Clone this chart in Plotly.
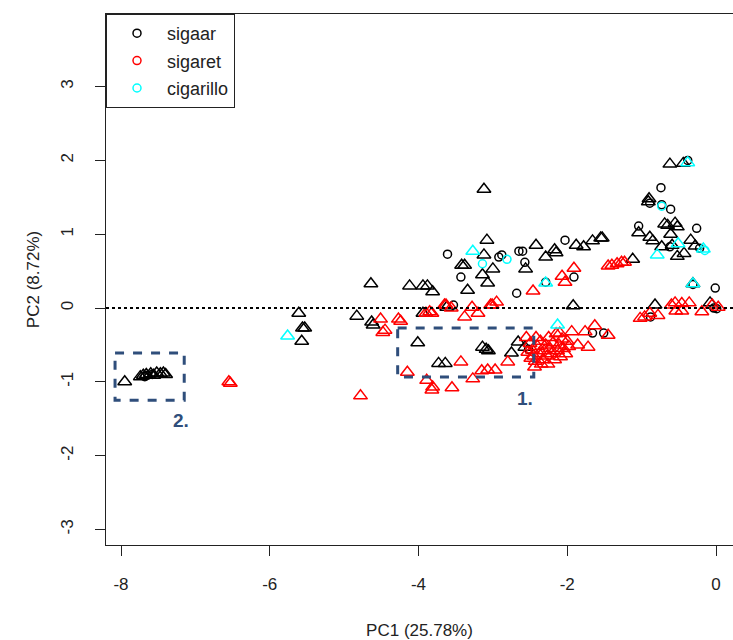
import plotly.graph_objects as go

# PCA scores (PC1, PC2) per product type and sample group
sigaar_tri_x = [-7.95, -7.74, -7.70, -7.66, -7.60, -7.56, -7.52, -7.47, -7.43, -7.40,
                -5.61, -5.53, -5.56, -5.57, -4.83, -4.63, -4.61, -4.64,
                -4.12, -3.94, -3.88, -3.81, -3.94, -4.01, -3.73, -3.64, -3.62,
                -3.14, -3.09, -3.06, -2.75, -2.66, -2.57,
                -3.12, -3.08, -3.12, -3.42, -3.38, -3.14, -3.00, -3.07, -3.34, -2.56,
                -2.42, -2.29, -2.17, -2.15, -1.88, -1.78, -1.66, -1.55, -1.92,
                -0.62, -0.44, -0.90, -0.91, -0.69, -0.65, -0.55, -0.52, -1.04, -0.61,
                -0.89, -0.85, -0.73, -0.59, -0.34, -0.28, -0.52, -0.43, -1.12, -1.53,
                -0.31, -0.82, -0.08]
sigaar_tri_y = [-1.00, -0.93, -0.91, -0.90, -0.89, -0.91, -0.88, -0.89, -0.88, -0.90,
                -0.07, -0.27, -0.27, -0.45, -0.11, -0.19, -0.23, 0.33,
                0.30, 0.30, 0.30, 0.22, -0.07, -0.47, -0.75, -0.75, 0.01,
                -0.53, -0.56, -0.58, -0.61, -0.46, -0.53,
                1.61, 0.92, 0.72, 0.58, 0.58, 0.45, 0.53, 0.34, 0.24, 0.53,
                0.85, 0.69, 0.79, 0.75, 0.85, 0.83, 0.91, 0.95, 0.03,
                1.95, 1.96, 1.48, 1.44, 1.14, 1.12, 1.15, 1.10, 1.02, 1.00,
                0.96, 0.91, 0.83, 0.85, 0.92, 0.84, 0.70, 0.74, 0.66, 0.95,
                0.33, 0.04, 0.07]

sigaar_circ_x = [-7.68, -7.64, -7.58, -3.61, -3.43, -2.92, -2.88, -2.65, -2.60, -2.57,
                 -2.68, -2.03, -2.29, -1.91, -3.53, -2.52, -1.66, -1.51, -0.74, -0.89,
                 -0.73, -0.61, -0.26, -1.04, -0.62, -0.22, -0.31, -0.01, -0.03, 0.01,
                 -0.88, -0.38]
sigaar_circ_y = [-0.93, -0.91, -0.90, 0.73, 0.42, 0.69, 0.72, 0.77, 0.77, 0.62,
                 0.20, 0.92, 0.35, 0.42, 0.04, -0.56, -0.34, -0.34, 1.63, 1.42,
                 1.40, 1.34, 1.08, 1.11, 0.83, 0.81, 0.32, 0.27, 0.00, -0.01,
                 -0.12, 2.00]

sigaret_tri_x = [-6.55, -6.53, -4.78, -4.51, -4.48, -4.27, -4.24, -4.45, -4.15,
                 -3.89, -3.81, -3.82, -3.55, -3.43, -3.27, -3.15, -3.07, -2.97, -2.80,
                 -3.90, -3.82, -3.85, -3.65, -3.56, -3.38, -3.28, -3.20, -3.03, -2.95,
                 -3.63, -3.01,
                 -2.46, -2.07, -2.03, -1.91, -1.40, -1.33, -1.27, -1.23, -1.45,
                 -1.02, -0.96, -0.78, -0.89, -0.55, -0.46, -0.36, -0.54, -0.46, -0.19,
                 -0.05, 0.03, -0.60,
                 -1.94, -1.76, -1.63, -1.45, -1.86, -1.72, -2.10,
                 -2.55, -2.50, -2.47, -2.45, -2.43, -2.40, -2.38, -2.36, -2.33, -2.31,
                 -2.29, -2.27, -2.25, -2.23, -2.21, -2.19, -2.17, -2.15, -2.13, -2.11,
                 -2.09, -2.07, -2.05, -2.02, -2.00, -1.98, -2.53, -2.49, -2.42, -2.35,
                 -2.26, -2.44]
sigaret_tri_y = [-1.00, -1.02, -1.19, -0.15, -0.33, -0.15, -0.18, -0.30, -0.87,
                 -0.98, -1.07, -1.11, -1.08, -0.73, -0.96, -0.85, -0.84, -0.84, -0.73,
                 -0.07, -0.07, -0.05, 0.04, 0.00, -0.12, 0.01, -0.07, 0.04, 0.08,
                 0.04, 0.04,
                 0.23, 0.43, 0.35, 0.54, 0.58, 0.60, 0.62, 0.62, 0.57,
                 -0.14, -0.12, -0.10, -0.07, 0.07, 0.06, 0.07, -0.04, -0.04, -0.05,
                 0.04, 0.01, 0.04,
                 -0.32, -0.32, -0.24, -0.37, -0.50, -0.53, -0.34,
                 -0.40, -0.48, -0.57, -0.65, -0.72, -0.52, -0.62, -0.45, -0.70, -0.58,
                 -0.50, -0.65, -0.40, -0.55, -0.62, -0.47, -0.70, -0.35, -0.58, -0.50,
                 -0.66, -0.42, -0.55, -0.62, -0.45, -0.52, -0.60, -0.68, -0.40, -0.76,
                 -0.76, -0.80]

cigarillo_tri_x = [-5.76, -3.27, -2.29, -2.13, -0.38, -0.51, -0.17, -0.79, -0.31]
cigarillo_tri_y = [-0.38, 0.77, 0.34, -0.23, 1.97, 0.87, 0.80, 0.72, 0.33]

cigarillo_circ_x = [-3.14, -2.81, -0.73, -0.15]
cigarillo_circ_y = [0.60, 0.66, 1.38, 0.78]

# highlighted regions: (x0, x1, y0, y1, label, label x, label y)
regions = [
    (-4.28, -2.45, -0.27, -0.935, "1.", -2.57, -1.22),
    (-8.08, -7.15, -0.61, -1.25, "2.", -7.20, -1.53),
]

BLACK, RED, CYAN = "#000000", "#FF0000", "#00FFFF"
BOX_BLUE = "#2F4E7B"
FONT = "Liberation Sans, Arial, sans-serif"

fig = go.Figure()

def add(x, y, color, symbol, name, show):
    size = 12 if symbol.startswith("triangle") else 8
    fig.add_trace(go.Scatter(
        x=x, y=y, mode="markers", name=name, showlegend=show,
        legendgroup=name,
        marker=dict(symbol=symbol, size=size, color=color,
                    line=dict(color=color, width=1.5)),
    ))

add(sigaar_tri_x, sigaar_tri_y, BLACK, "triangle-up-open", "sigaar", False)
add(sigaar_circ_x, sigaar_circ_y, BLACK, "circle-open", "sigaar", True)
add(sigaret_tri_x, sigaret_tri_y, RED, "triangle-up-open", "sigaret", False)
add([None], [None], RED, "circle-open", "sigaret", True)
add(cigarillo_tri_x, cigarillo_tri_y, CYAN, "triangle-up-open", "cigarillo", False)
add(cigarillo_circ_x, cigarillo_circ_y, CYAN, "circle-open", "cigarillo", True)

# dotted reference line at PC2 = 0
fig.add_shape(type="line", xref="paper", x0=0, x1=1, yref="y", y0=0, y1=0,
              line=dict(color="black", width=2, dash="dot"))

for x0, x1, y0, y1, label, lx, ly in regions:
    fig.add_shape(type="rect", x0=x0, x1=x1, y0=y0, y1=y1,
                  line=dict(color=BOX_BLUE, width=3, dash="dash"))
    fig.add_annotation(x=lx, y=ly, text=f"<b>{label}</b>", showarrow=False,
                       font=dict(family=FONT, size=19, color=BOX_BLUE))

axis_common = dict(showgrid=False, zeroline=False, showline=True,
                   linecolor="#222", linewidth=1, ticks="outside", ticklen=10,
                   tickcolor="#222", tickfont=dict(family=FONT, size=17, color="#222"))

fig.update_xaxes(range=[-8.2017, 0.2286], tickvals=[-8, -6, -4, -2, 0],
                 ticktext=["-8", "-6", "-4", "-2", "0"], mirror=True,
                 ticklabelstandoff=14,
                 title=dict(text="PC1 (25.78%)", standoff=34,
                            font=dict(family=FONT, size=17, color="#222")),
                 **axis_common)
fig.update_yaxes(range=[-3.211, 3.984], tickvals=[-3, -2, -1, 0, 1, 2, 3],
                 ticktext=["-3", "-2", "-1", "0", "1", "2", "3"], tickangle=-90,
                 ticklabelstandoff=15,
                 title=dict(text="PC2 (8.72%)", standoff=14,
                            font=dict(family=FONT, size=17, color="#222")),
                 **axis_common)

fig.update_layout(
    width=733, height=640,
    margin=dict(l=106, r=0, t=14, b=95),
    plot_bgcolor="white", paper_bgcolor="white",
    font=dict(family=FONT, size=17, color="#222"),
    legend=dict(x=0, y=1, xanchor="left", yanchor="top",
                bordercolor="#222", borderwidth=1, bgcolor="white",
                itemwidth=50, font=dict(family=FONT, size=18, color="#222"),
                tracegroupgap=1),
)

fig.write_html("out.html")
